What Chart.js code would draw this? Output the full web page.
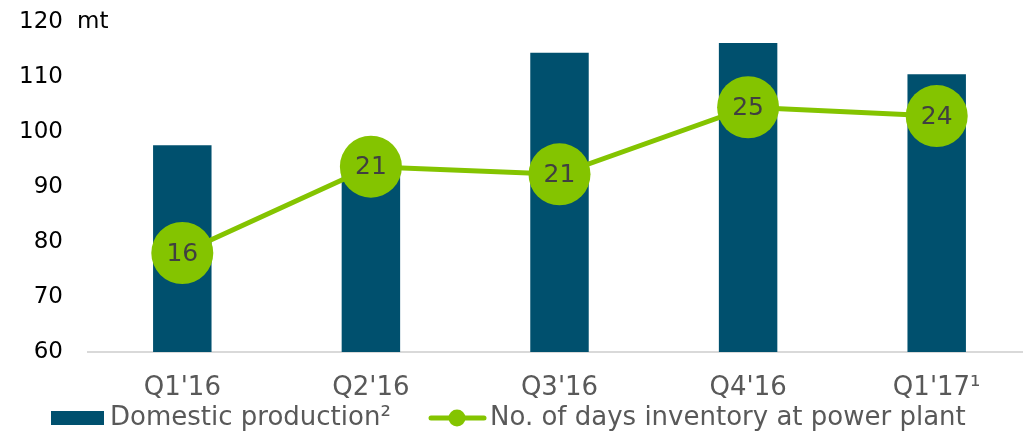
<!DOCTYPE html>
<html>
<head>
<meta charset="utf-8">
<script src="https://cdn.jsdelivr.net/npm/chart.js@4/dist/chart.umd.min.js"></script>
<style>
  body { margin: 0; background: #fff; overflow: hidden; }
  #chart { display: block; width: 1062px; height: 443px; margin-top: -9px; }
</style>
</head>
<body>
<canvas id="chart" width="1062" height="443"></canvas>
<script>
const quarters = ["Q1'16", "Q2'16", "Q3'16", "Q4'16", "Q1'17\u00B9"];
const production = [97.6, 93, 114.4, 116.2, 110.5];     // mt
const inventoryLevel = [78.0, 93.7, 92.3, 104.5, 102.9]; // position on mt scale
const inventoryDays = [16, 21, 21, 25, 24];
const yTicks = [60, 70, 80, 90, 100, 110, 120];

const barColor = '#00506E';
const lineColor = '#84C400';
const fontFamily = '"DejaVu Sans", Verdana, sans-serif';

// labels inside the circles, unit text and the legend
const overlay = {
    id: 'overlay',
    afterDatasetsDraw(chart) {
        const ctx = chart.ctx;
        const points = chart.getDatasetMeta(1).data;
        ctx.save();
        ctx.font = '25px ' + fontFamily;
        ctx.fillStyle = '#404040';
        ctx.textAlign = 'center';
        ctx.textBaseline = 'middle';
        points.forEach((pt, i) => ctx.fillText(inventoryDays[i], pt.x, pt.y + 1));

        ctx.font = '23px ' + fontFamily;
        ctx.fillStyle = '#000';
        ctx.textAlign = 'left';
        ctx.fillText('mt', 77, chart.scales.y.getPixelForValue(yTicks[yTicks.length - 1]));

        // legend, just under the category labels
        const ds = chart.data.datasets;
        const ly = chart.chartArea.bottom + 66;
        ctx.font = '26px ' + fontFamily;
        ctx.fillStyle = ds[0].backgroundColor;
        ctx.fillRect(51, ly - 7, 53, 14);
        ctx.fillStyle = '#595959';
        ctx.fillText(ds[0].label, 110, ly);
        const x2 = 429;
        ctx.strokeStyle = ds[1].borderColor;
        ctx.lineWidth = 5;
        ctx.lineCap = 'round';
        ctx.beginPath();
        ctx.moveTo(x2 + 2, ly);
        ctx.lineTo(x2 + 55, ly);
        ctx.stroke();
        ctx.fillStyle = ds[1].pointBackgroundColor;
        ctx.beginPath();
        ctx.arc(x2 + 28, ly, 8.5, 0, Math.PI * 2);
        ctx.fill();
        ctx.fillStyle = '#595959';
        ctx.fillText(ds[1].label, 490, ly);
        ctx.restore();
    }
};

new Chart(document.getElementById('chart'), {
    data: {
        labels: quarters,
        datasets: [
            {
                type: 'bar',
                label: 'Domestic production\u00B2',
                data: production,
                backgroundColor: barColor,
                barPercentage: 0.31,
                categoryPercentage: 1,
                order: 1
            },
            {
                type: 'line',
                label: 'No. of days inventory at power plant',
                data: inventoryLevel,
                borderColor: lineColor,
                borderWidth: 5,
                pointRadius: 31,
                pointHoverRadius: 31,
                pointBorderWidth: 0,
                pointBackgroundColor: lineColor,
                tension: 0,
                order: 0
            }
        ]
    },
    options: {
        responsive: false,
        animation: false,
        devicePixelRatio: 1,
        layout: { padding: { top: 20, right: 9, bottom: 0, left: 0 } },
        plugins: {
            legend: { display: false },
            tooltip: { enabled: false }
        },
        scales: {
            x: {
                grid: { display: false, drawTicks: false },
                border: { display: true, color: '#D9D9D9', width: 2 },
                ticks: { color: '#595959', font: { family: fontFamily, size: 26 }, padding: 21, maxRotation: 0 },
                afterFit(scale) { scale.height = 82; }
            },
            y: {
                position: 'left',
                weight: 1,
                min: yTicks[0],
                max: yTicks[yTicks.length - 1],
                grid: { display: false, drawTicks: false },
                border: { display: false },
                ticks: { stepSize: 10, color: '#000', font: { family: fontFamily, size: 23 }, padding: 0 },
                afterFit(scale) { scale.width = 63; }
            },
            // empty spacer between the tick labels and the plot
            gap: {
                type: 'linear',
                position: 'left',
                weight: 0,
                grid: { display: false, drawTicks: false },
                border: { display: false },
                ticks: { display: false },
                afterFit(scale) { scale.width = 25; }
            }
        }
    },
    plugins: [overlay]
});
</script>
</body>
</html>
